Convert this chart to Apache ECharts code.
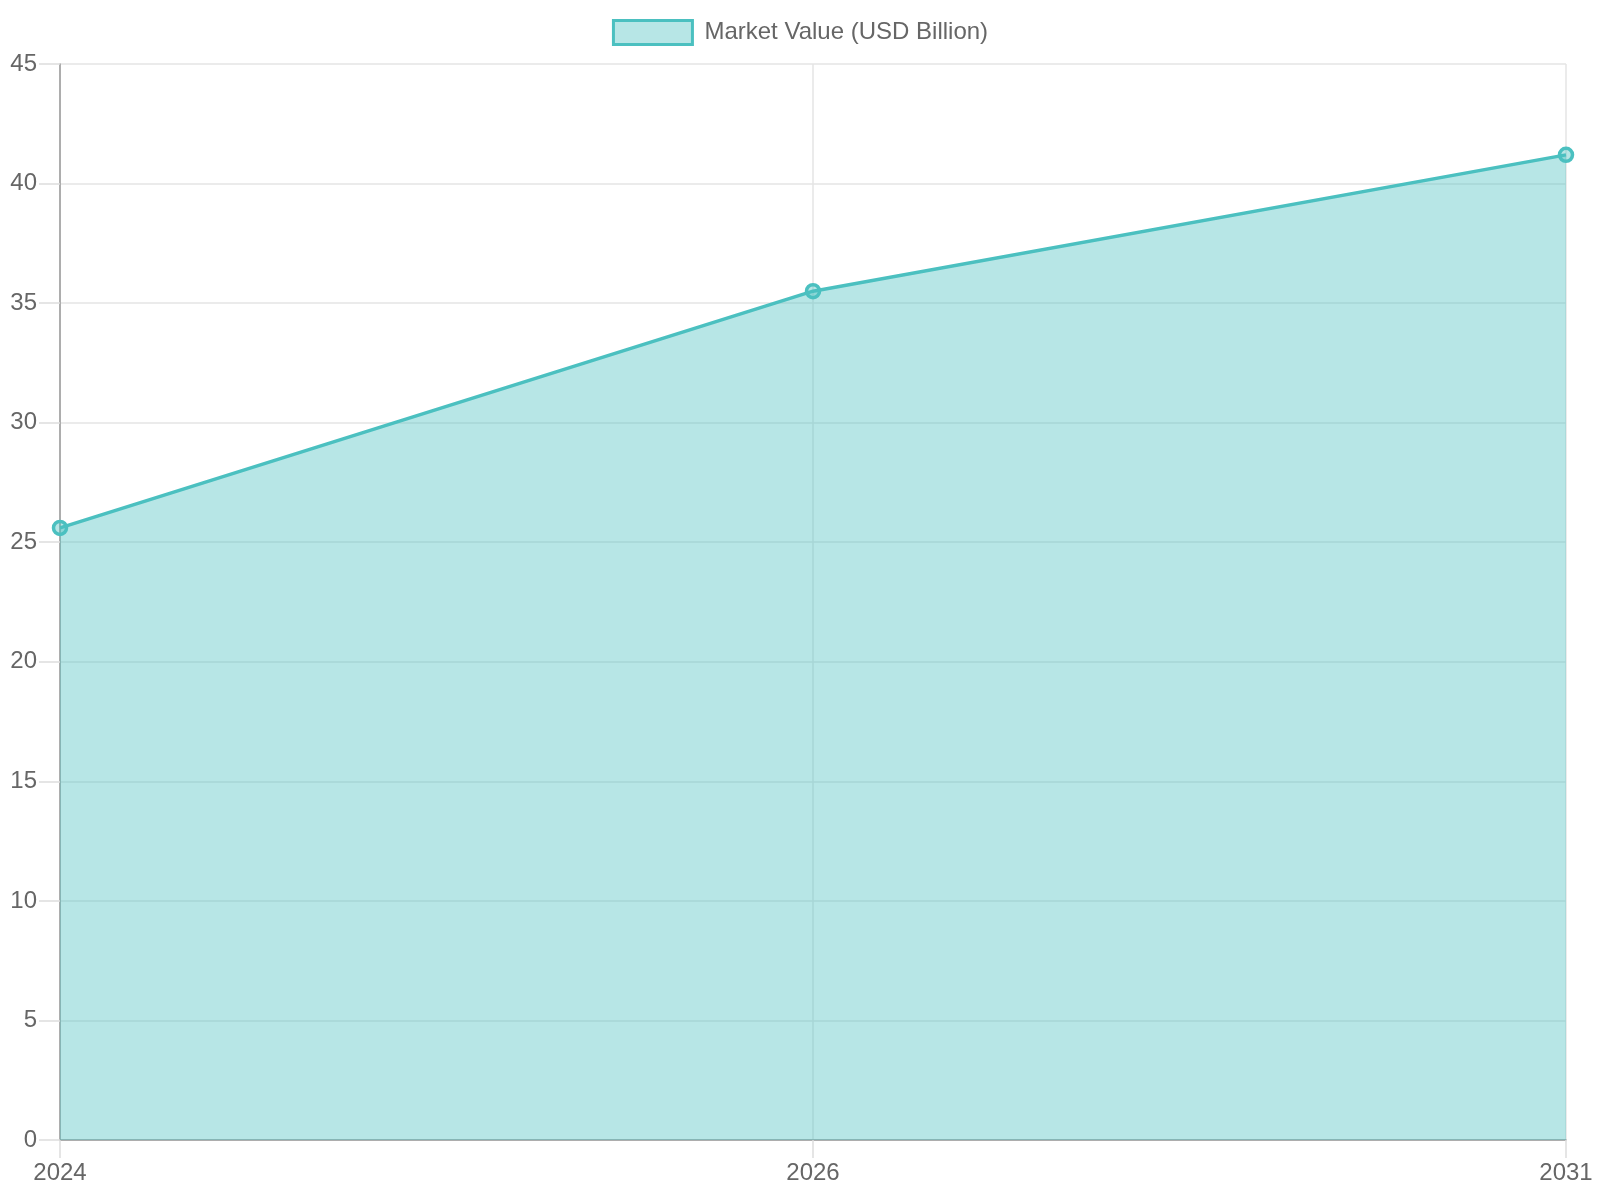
<!DOCTYPE html>
<html lang="en">
<head>
    <meta charset="UTF-8">
    <script src="https://cdn.jsdelivr.net/npm/echarts@6/dist/echarts.min.js"></script>
    <title>Market Value</title>
    <style>
        html, body { margin: 0; padding: 0; background: #fff; }
    </style>
</head>
<body>
    <div id="main" style="width: 1600px;height:1200px;"></div>

    <script type="text/javascript">
        // data
        var years = ['2024', '2026', '2031'];
        var marketValue = [25.6, 35.5, 41.2];
        var seriesName = 'Market Value (USD Billion)';

        var teal = '#4bc0c0';
        var tealFill = 'rgba(75,192,192,0.4)';
        var font = 'Liberation Sans, Arial, sans-serif';

        var myChart = echarts.init(document.getElementById('main'));

        myChart.setOption({
            animation: false,
            textStyle: { fontFamily: font },
            legend: {
                top: 19,
                left: 'center',
                padding: 0,
                itemWidth: 79,
                itemHeight: 24,
                icon: 'rect',
                textStyle: { color: '#666', fontSize: 24, fontFamily: font, padding: [0, 0, 0, 7] },
                data: [{
                    name: seriesName,
                    itemStyle: { color: tealFill, borderColor: teal, borderWidth: 3 }
                }]
            },
            grid: { left: 60, right: 34, top: 64, bottom: 60, containLabel: false },
            xAxis: {
                type: 'category',
                data: years,
                boundaryGap: false,
                axisLine: { lineStyle: { color: '#999', width: 1.5 } },
                axisTick: { show: true, length: 18, lineStyle: { color: '#ddd', width: 1.5 } },
                axisLabel: { color: '#666', fontSize: 24, margin: 21 },
                splitLine: { show: true, lineStyle: { color: '#e5e5e5', width: 1.5 } }
            },
            yAxis: {
                type: 'value',
                min: 0,
                max: 45,
                interval: 5,
                axisLine: { show: true, lineStyle: { color: '#999', width: 1.5 } },
                axisTick: { show: true, length: 21, lineStyle: { color: '#ddd', width: 1.5 } },
                axisLabel: { color: '#666', fontSize: 24, margin: 23, padding: [3, 0, 0, 0] },
                splitLine: { show: true, lineStyle: { color: '#e5e5e5', width: 1.5 } }
            },
            series: [{
                name: seriesName,
                type: 'line',
                data: marketValue,
                symbol: 'circle',
                symbolSize: 13,
                showSymbol: true,
                lineStyle: { color: teal, width: 3.5 },
                itemStyle: { color: tealFill, borderColor: teal, borderWidth: 3.5 },
                areaStyle: { color: tealFill, opacity: 1, origin: 'start' }
            }]
        });
    </script>
</body>
</html>
